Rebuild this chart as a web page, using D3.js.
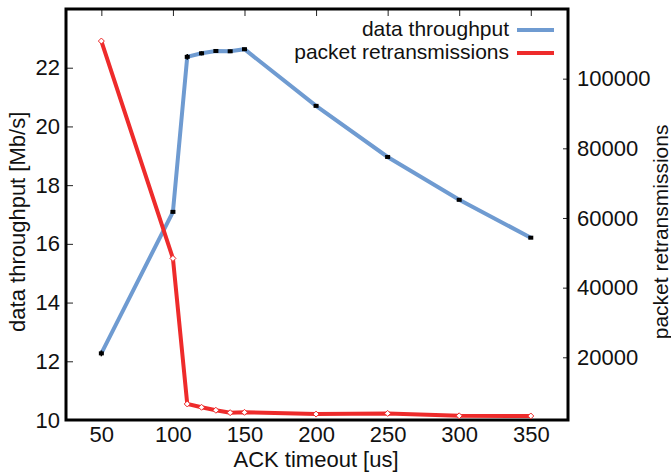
<!DOCTYPE html>
<html>
<head>
<meta charset="utf-8">
<script src="https://cdn.jsdelivr.net/npm/d3@7"></script>
<style>
  body { margin: 0; background: #fff; }
  svg { font-family: "Liberation Sans", Arial, sans-serif; }
</style>
</head>
<body>
<div id="chart"></div>
<script>
const timeouts = [50, 100, 110, 120, 130, 140, 150, 200, 250, 300, 350];
const throughput = [12.27, 17.09, 22.37, 22.49, 22.57, 22.56, 22.63, 20.70, 18.96, 17.50, 16.21];
const throughputErr = [0.1, 0.06, 0.1, 0.07, 0.05, 0.05, 0.04, 0.04, 0.04, 0.04, 0.04];
const retrans = [110800, 48400, 6600, 5650, 4800, 4100, 4200, 3700, 3900, 3200, 3150];
const xTicks = [50, 100, 150, 200, 250, 300, 350];
const yLeftTicks = [10, 12, 14, 16, 18, 20, 22];
const yRightTicks = [20000, 40000, 60000, 80000, 100000];

const W = 671, H = 472;
const margin = { top: 9, right: 103, bottom: 52, left: 66 };
const width = W - margin.left - margin.right;
const height = H - margin.top - margin.bottom;
const fs = "22px";

const svg = d3.select("#chart").append("svg")
  .attr("width", W).attr("height", H)
  .append("g")
  .attr("transform", `translate(${margin.left},${margin.top})`);

const x = d3.scaleLinear().domain([25.3, 376]).range([0, width]);
const yL = d3.scaleLinear().domain([10, 24]).range([height, 0]);
const yR = d3.scaleLinear().domain([2000, 120000]).range([height, 0]);

const blue = "#6f9bd1", red = "#ee2b2b";

// axes
svg.append("g")
  .attr("transform", `translate(0,${height})`)
  .call(d3.axisBottom(x).tickValues(xTicks).tickSize(0).tickPadding(6))
  .call(g => g.select(".domain").remove())
  .selectAll("text").style("font-size", fs).attr("fill", "#111");

svg.append("g")
  .call(d3.axisTop(x).tickValues(xTicks).tickSize(-7).tickFormat(""))
  .call(g => g.select(".domain").remove())
  .selectAll("line").attr("stroke", "#222");

svg.append("g")
  .call(d3.axisLeft(yL).tickValues(yLeftTicks).tickSize(-7).tickPadding(6))
  .call(g => g.select(".domain").remove())
  .call(g => g.selectAll("text").style("font-size", fs).attr("fill", "#111"))
  .selectAll("line").attr("stroke", "#222");

svg.append("g")
  .attr("transform", `translate(${width},0)`)
  .call(d3.axisRight(yR).tickValues(yRightTicks).tickSize(-5).tickPadding(9).tickFormat(d3.format("d")))
  .call(g => g.select(".domain").remove())
  .call(g => g.selectAll("text").style("font-size", fs).attr("fill", "#111"))
  .selectAll("line").attr("stroke", "#222");

// frame
svg.append("rect")
  .attr("width", width).attr("height", height)
  .attr("fill", "none").attr("stroke", "#000").attr("stroke-width", 3);

const data = timeouts.map((t, i) => ({ t, v: throughput[i], e: throughputErr[i], r: retrans[i] }));

// throughput line
svg.append("path")
  .datum(data)
  .attr("fill", "none").attr("stroke", blue).attr("stroke-width", 4)
  .attr("d", d3.line().x(d => x(d.t)).y(d => yL(d.v)));

// retransmissions line
svg.append("path")
  .datum(data)
  .attr("fill", "none").attr("stroke", red).attr("stroke-width", 4)
  .attr("d", d3.line().x(d => x(d.t)).y(d => yR(d.r)));

svg.selectAll(".rmark").data(data).enter().append("path")
  .attr("transform", d => `translate(${x(d.t)},${yR(d.r)})`)
  .attr("d", "M0,-3L3,0L0,3L-3,0Z")
  .attr("fill", "#fff").attr("stroke", red).attr("stroke-width", 1);

// error bars
const eb = svg.selectAll(".eb").data(data).enter().append("g");
eb.append("line")
  .attr("x1", d => x(d.t)).attr("x2", d => x(d.t))
  .attr("y1", d => yL(d.v - d.e)).attr("y2", d => yL(d.v + d.e))
  .attr("stroke", "#000").attr("stroke-width", 1.5);
eb.append("rect")
  .attr("x", d => x(d.t) - 2.5).attr("y", d => yL(d.v) - 2)
  .attr("width", 5).attr("height", 4).attr("fill", "#000");

// legend
const legend = [
  { label: "data throughput", color: blue, y: 27 },
  { label: "packet retransmissions", color: red, y: 50 }
];
const lg = svg.selectAll(".lg").data(legend).enter().append("g");
lg.append("text")
  .attr("x", width - 59).attr("y", d => d.y)
  .attr("text-anchor", "end").style("font-size", "21px").attr("fill", "#111")
  .text(d => d.label);
lg.append("line")
  .attr("x1", width - 51).attr("x2", width - 14)
  .attr("y1", d => d.y - 6).attr("y2", d => d.y - 6)
  .attr("stroke", d => d.color).attr("stroke-width", 4);

// titles
svg.append("text")
  .attr("x", x(200)).attr("y", height + 47)
  .attr("text-anchor", "middle").style("font-size", fs).attr("fill", "#111")
  .text("ACK timeout [us]");

svg.append("text")
  .attr("transform", `translate(${-41},${yL(16.75)}) rotate(-90)`)
  .attr("text-anchor", "middle").style("font-size", fs).attr("fill", "#111")
  .text("data throughput [Mb/s]");

svg.append("text")
  .attr("transform", `translate(${width + 100},${yR(56000)}) rotate(-90)`)
  .attr("text-anchor", "middle").style("font-size", "21px").attr("fill", "#111")
  .text("packet retransmissions");
</script>
</body>
</html>
